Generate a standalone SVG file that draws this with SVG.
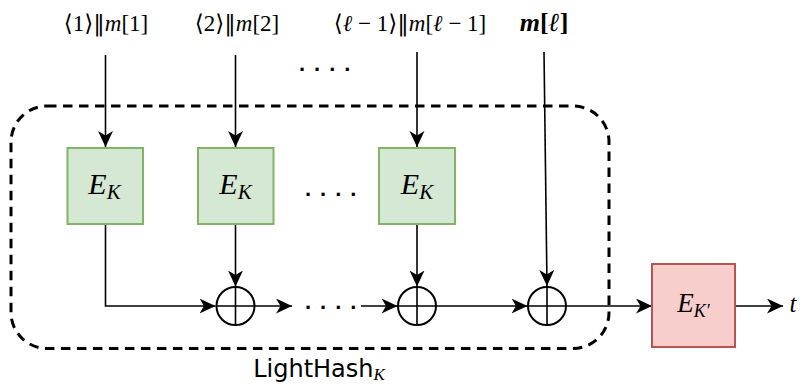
<svg xmlns="http://www.w3.org/2000/svg" width="803" height="386" viewBox="0 0 803 386">
<style>
.math{font-family:"Liberation Serif","DejaVu Serif",serif;fill:#000}
.it{font-style:italic}
.bar{font-family:"DejaVu Serif","DejaVu Sans",serif;font-style:normal}
.ln{fill:none;stroke:#000;stroke-width:1.6}
.circ{fill:#fff;stroke:#000;stroke-width:2}
.green{fill:#d5e8d4;stroke:#82b366;stroke-width:2}
.red{fill:#f8cecc;stroke:#b85450;stroke-width:2}
.dots{font-family:"Liberation Sans",sans-serif;font-weight:bold;font-size:22px;letter-spacing:9px;fill:#000}
</style>
<defs>
<marker id="arr" markerUnits="userSpaceOnUse" markerWidth="17" markerHeight="16" refX="16" refY="7.5" orient="auto">
<path d="M0,0 L16,7.5 L0,15 L4.5,7.5 Z" fill="#000"/>
</marker>
</defs>
<rect id="lighthash-frame" x="11" y="106" width="598" height="242.5" rx="36" ry="36" fill="none" stroke="#000" stroke-width="3" stroke-dasharray="9.5 6.5"/>
<g id="connectors">
<path class="ln" d="M105.5,55 L105.5,147" marker-end="url(#arr)"/>
<path class="ln" d="M235.5,55 L235.5,147" marker-end="url(#arr)"/>
<path class="ln" d="M417,52 L417,147" marker-end="url(#arr)"/>
<path class="ln" d="M544,52 L547,286" marker-end="url(#arr)"/>
<path class="ln" d="M105.5,224 L105.5,306 L215.5,306" marker-end="url(#arr)"/>
<path class="ln" d="M235.5,224 L235.5,286.5" marker-end="url(#arr)"/>
<path class="ln" d="M255,306 L292,306" marker-end="url(#arr)"/>
<path class="ln" d="M361,306 L397.5,306" marker-end="url(#arr)"/>
<path class="ln" d="M417,224 L417,286.5" marker-end="url(#arr)"/>
<path class="ln" d="M436.5,306 L527.5,306" marker-end="url(#arr)"/>
<path class="ln" d="M566.5,306 L652,306" marker-end="url(#arr)"/>
<path class="ln" d="M735,306 L783,306" marker-end="url(#arr)"/>
</g>
<g id="label-in1"><text class="math" x="106" y="31" font-size="23" text-anchor="middle">⟨1⟩<tspan class="bar">‖</tspan><tspan class="it">m</tspan>[1]</text></g>
<g id="label-in2"><text class="math" x="237" y="31" font-size="23" text-anchor="middle">⟨2⟩<tspan class="bar">‖</tspan><tspan class="it">m</tspan>[2]</text></g>
<g id="label-in3"><text class="math" x="410" y="31" font-size="23" text-anchor="middle">⟨<tspan class="it">ℓ</tspan> − 1⟩<tspan class="bar">‖</tspan><tspan class="it">m</tspan>[<tspan class="it">ℓ</tspan> − 1]</text></g>
<g id="label-in4"><text class="math" x="544" y="31" font-size="26" font-weight="bold" text-anchor="middle"><tspan class="it">m</tspan>[<tspan class="it">ℓ</tspan>]</text></g>
<g id="dots-top"><text class="dots" x="299" y="71">....</text></g>
<g id="dots-mid"><text class="dots" x="305" y="196">....</text></g>
<g id="dots-line"><text class="dots" x="305" y="309">....</text></g>
<g id="ek1"><rect class="green" x="67.5" y="148" width="75.5" height="76"/><text class="math" x="104.5" y="194" font-size="30" text-anchor="middle"><tspan class="it">E</tspan><tspan class="it" font-size="21" dy="5">K</tspan></text></g>
<g id="ek2"><rect class="green" x="198" y="148" width="75.5" height="76"/><text class="math" x="235.5" y="194" font-size="30" text-anchor="middle"><tspan class="it">E</tspan><tspan class="it" font-size="21" dy="5">K</tspan></text></g>
<g id="ek3"><rect class="green" x="379" y="148" width="76" height="76"/><text class="math" x="417" y="194" font-size="30" text-anchor="middle"><tspan class="it">E</tspan><tspan class="it" font-size="21" dy="5">K</tspan></text></g>
<g id="xor1"><circle class="circ" cx="235.5" cy="306" r="19"/><path class="ln" d="M235.5,287 V325 M216.5,306 H254.5" stroke-width="2"/></g>
<g id="xor2"><circle class="circ" cx="417" cy="306" r="19"/><path class="ln" d="M417,287 V325 M398,306 H436" stroke-width="2"/></g>
<g id="xor3"><circle class="circ" cx="547" cy="306" r="19"/><path class="ln" d="M547,287 V325 M528,306 H566" stroke-width="2"/></g>
<g id="ekprime"><rect class="red" x="652" y="264" width="83" height="83"/><text class="math" x="693.5" y="312" font-size="27" text-anchor="middle"><tspan class="it">E</tspan><tspan class="it" font-size="18" dy="5">K′</tspan></text></g>
<g id="out-t"><text class="math it" x="793" y="312" font-size="25" text-anchor="middle">t</text></g>
<g id="label-lighthash"><text x="319" y="377" font-family="DejaVu Sans,sans-serif" font-size="24" text-anchor="middle" fill="#000">LightHash<tspan class="math it" font-size="17" dy="3">K</tspan></text></g>
</svg>
